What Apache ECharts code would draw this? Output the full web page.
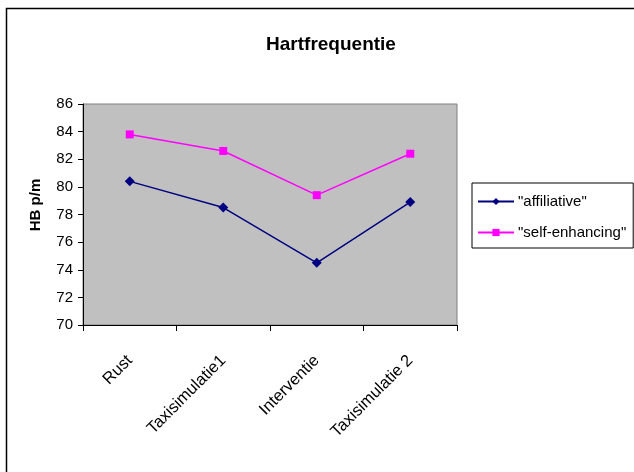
<!DOCTYPE html>
<html>
<head>
<meta charset="utf-8">
<style>html,body{margin:0;padding:0;background:#fff}#c{width:634px;height:472px}</style>
<script src="https://cdn.jsdelivr.net/npm/echarts@6/dist/echarts.min.js"></script>
</head>
<body>
<div id="c"></div>
<script>
const categories = ['Rust', 'Taxisimulatie1', 'Interventie', 'Taxisimulatie 2'];
const affiliative = [80.4, 78.5, 74.5, 78.9];
const selfEnhancing = [83.8, 82.6, 79.4, 82.4];
const yMin = 70, yMax = 86, yStep = 2;
const FONT = '"Liberation Sans", Arial, sans-serif';

const chart = echarts.init(document.getElementById('c'), null, {renderer: 'canvas'});
chart.setOption({
  backgroundColor: '#fff',
  animation: false,
  textStyle: {fontFamily: FONT, color: '#000'},
  title: {
    text: 'Hartfrequentie',
    left: 326, top: 30, textAlign: 'center',
    textStyle: {fontFamily: FONT, fontSize: 19, fontWeight: 'bold', color: '#000'}
  },
  graphic: [
    {type: 'rect', shape: {x: 6.5, y: 8.5, width: 700, height: 600},
     style: {fill: 'none', stroke: '#000', lineWidth: 1.5}, z: 100, silent: true},
    {type: 'text', x: 36, y: 205, rotation: Math.PI / 2,
     style: {text: 'HB p/m', font: 'bold 15px ' + FONT, fill: '#000', align: 'center', verticalAlign: 'middle'}}
  ],
  legend: {
    orient: 'vertical', left: 472, top: 183,
    borderColor: '#000', borderWidth: 1, borderRadius: 0,
    padding: [11, 7, 8, 5], itemGap: 16, itemWidth: 36, itemHeight: 9,
    textStyle: {fontFamily: FONT, fontSize: 15, color: '#000', padding: [0, 0, 0, -1]},
    data: ['"affiliative"', '"self-enhancing"']
  },
  grid: {
    left: 83, top: 104, right: 177, bottom: 147,
    show: true, backgroundColor: '#c0c0c0', borderColor: '#808080', borderWidth: 1
  },
  xAxis: {
    type: 'category', data: categories, boundaryGap: true,
    axisLine: {lineStyle: {color: '#000', width: 1}},
    axisTick: {show: true, interval: 0, length: 6, lineStyle: {color: '#000'}},
    axisLabel: {interval: 0, rotate: 45, margin: 33, fontSize: 16.5, color: '#000', fontFamily: FONT},
    splitLine: {show: false}
  },
  yAxis: {
    type: 'value', min: yMin, max: yMax, interval: yStep,
    axisLine: {show: true, lineStyle: {color: '#000', width: 1}},
    axisTick: {show: true, length: 5, lineStyle: {color: '#000'}},
    axisLabel: {margin: 10, fontSize: 15, color: '#000', fontFamily: FONT},
    splitLine: {show: false}
  },
  series: [
    {name: '"affiliative"', type: 'line', data: affiliative,
     symbol: 'diamond', symbolSize: 10,
     itemStyle: {color: '#000080'}, lineStyle: {color: '#000080', width: 1.5}},
    {name: '"self-enhancing"', type: 'line', data: selfEnhancing,
     symbol: 'rect', symbolSize: 8,
     itemStyle: {color: '#ff00ff'}, lineStyle: {color: '#ff00ff', width: 1.5}}
  ]
});
</script>
</body>
</html>
